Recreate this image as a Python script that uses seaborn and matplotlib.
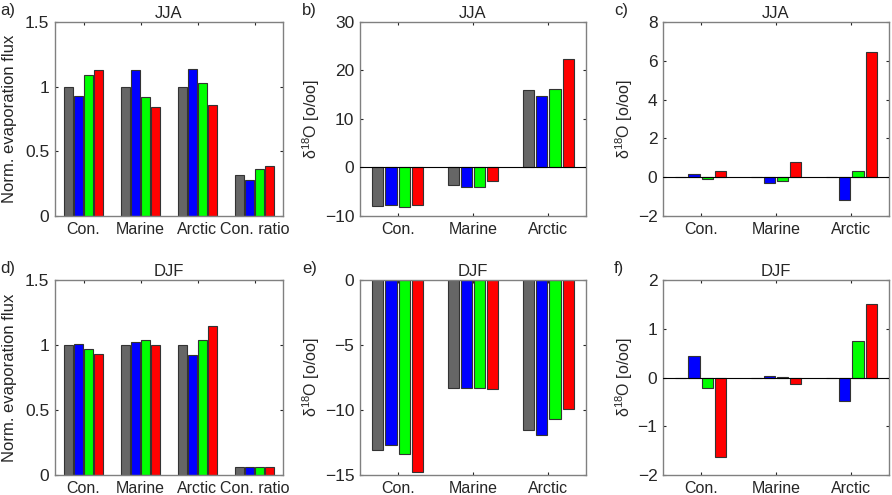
import matplotlib
matplotlib.use("Agg")
import matplotlib.pyplot as plt
import seaborn as sns
import pandas as pd

# --- data ---
runs = ["ref", "run1", "run2", "run3"]
run_colors = ["#666666", "#0000ff", "#00ff00", "#ff0000"]

flux_regions = ["Con.", "Marine", "Arctic", "Con. ratio"]
iso_regions = ["Con.", "Marine", "Arctic"]

# a) JJA normalised evaporation flux (one list per run)
jja_flux_ref = [1.00, 1.00, 1.00, 0.32]
jja_flux_run1 = [0.93, 1.13, 1.14, 0.28]
jja_flux_run2 = [1.09, 0.92, 1.03, 0.36]
jja_flux_run3 = [1.13, 0.84, 0.86, 0.39]

# b) JJA d18O
jja_d18o_ref = [-8.0, -3.6, 15.9]
jja_d18o_run1 = [-7.8, -4.0, 14.7]
jja_d18o_run2 = [-8.1, -4.0, 16.2]
jja_d18o_run3 = [-7.7, -2.8, 22.3]

# c) JJA d18O difference to ref
jja_diff_ref = [0.0, 0.0, 0.0]
jja_diff_run1 = [0.15, -0.30, -1.20]
jja_diff_run2 = [-0.10, -0.20, 0.30]
jja_diff_run3 = [0.30, 0.80, 6.45]

# d) DJF normalised evaporation flux
djf_flux_ref = [1.00, 1.00, 1.00, 0.065]
djf_flux_run1 = [1.01, 1.02, 0.92, 0.065]
djf_flux_run2 = [0.97, 1.04, 1.04, 0.06]
djf_flux_run3 = [0.93, 1.00, 1.15, 0.06]

# e) DJF d18O
djf_d18o_ref = [-13.1, -8.3, -11.5]
djf_d18o_run1 = [-12.7, -8.3, -11.95]
djf_d18o_run2 = [-13.4, -8.3, -10.7]
djf_d18o_run3 = [-14.75, -8.4, -9.95]

# f) DJF d18O difference to ref
djf_diff_ref = [0.0, 0.0, 0.0]
djf_diff_run1 = [0.45, 0.03, -0.48]
djf_diff_run2 = [-0.22, 0.02, 0.75]
djf_diff_run3 = [-1.63, -0.13, 1.50]


def long_table(regions, *series):
    rows = []
    for run, vals in zip(runs, series):
        for reg, v in zip(regions, vals):
            rows.append({"region": reg, "run": run, "value": v})
    return pd.DataFrame(rows)


d18o_label = "\u03b4$^{18}$O [o/oo]"

panels = [
    ("a)", "JJA", long_table(flux_regions, jja_flux_ref, jja_flux_run1, jja_flux_run2, jja_flux_run3),
     flux_regions, (0, 1.5), [0, 0.5, 1, 1.5], "Norm. evaporation flux"),
    ("b)", "JJA", long_table(iso_regions, jja_d18o_ref, jja_d18o_run1, jja_d18o_run2, jja_d18o_run3),
     iso_regions, (-10, 30), [-10, 0, 10, 20, 30], d18o_label),
    ("c)", "JJA", long_table(iso_regions, jja_diff_ref, jja_diff_run1, jja_diff_run2, jja_diff_run3),
     iso_regions, (-2, 8), [-2, 0, 2, 4, 6, 8], d18o_label),
    ("d)", "DJF", long_table(flux_regions, djf_flux_ref, djf_flux_run1, djf_flux_run2, djf_flux_run3),
     flux_regions, (0, 1.5), [0, 0.5, 1, 1.5], "Norm. evaporation flux"),
    ("e)", "DJF", long_table(iso_regions, djf_d18o_ref, djf_d18o_run1, djf_d18o_run2, djf_d18o_run3),
     iso_regions, (-15, 0), [-15, -10, -5, 0], d18o_label),
    ("f)", "DJF", long_table(iso_regions, djf_diff_ref, djf_diff_run1, djf_diff_run2, djf_diff_run3),
     iso_regions, (-2, 2), [-2, -1, 0, 1, 2], d18o_label),
]

sns.set_style("white")
plt.rcParams["font.family"] = ["Liberation Sans", "DejaVu Sans"]
plt.rcParams["mathtext.fontset"] = "custom"
plt.rcParams["mathtext.rm"] = "Liberation Sans"
plt.rcParams["mathtext.it"] = "Liberation Sans:italic"

W, H = 892, 495
fig = plt.figure(figsize=(W / 100, H / 100), dpi=100)

# axes boxes in pixels: left, top, right, bottom
col_px = [(55, 283), (360, 586), (663, 889)]
row_px = [(22, 216), (280, 475)]
letter_x = [0, 302, 614]
txt = "#262626"

for i, (letter, season, df, order, ylim, yticks, ylabel) in enumerate(panels):
    r, c = divmod(i, 3)
    x0, x1 = col_px[c]
    y0, y1 = row_px[r]
    ax = fig.add_axes([x0 / W, 1 - y1 / H, (x1 - x0) / W, (y1 - y0) / H])

    sns.barplot(data=df, x="region", y="value", hue="run", order=order,
                hue_order=runs, palette=run_colors, saturation=1, errorbar=None,
                width=0.7, gap=0.15, edgecolor="#333333", linewidth=0.8,
                legend=False, ax=ax)

    if ylim[0] < 0 < ylim[1]:
        ax.axhline(0, color="black", lw=0.8, zorder=3)

    ax.set_xlim(-0.5, len(order) - 0.5)
    ax.set_ylim(*ylim)
    ax.set_yticks(yticks)
    ax.set_yticklabels([f"{t:g}".replace("-", "\u2212") for t in yticks])
    ax.set_xlabel("")
    if "Norm" in ylabel:
        ax.set_ylabel(ylabel, fontsize=12, color=txt, labelpad=6)
    else:
        ax.set_ylabel(ylabel, fontsize=11.5, color=txt, labelpad=2)
    ax.set_title(season, fontsize=12, color=txt, pad=3)

    for s in ax.spines.values():
        s.set_visible(True)
        s.set_color("#808080")
        s.set_linewidth(1.0)
    ax.tick_params(axis="both", direction="in", length=2.5, width=0.8,
                   color=txt, labelcolor=txt,
                   top=True, right=True, bottom=True, left=True, pad=4)
    ax.tick_params(axis="y", labelsize=12.5)
    ax.tick_params(axis="x", labelsize=11.5)

    fig.text(letter_x[c] / W, 1 - (y0 - 12) / H, letter, fontsize=12,
             color=txt, ha="left", va="center")

fig.savefig("out.png", dpi=100)
